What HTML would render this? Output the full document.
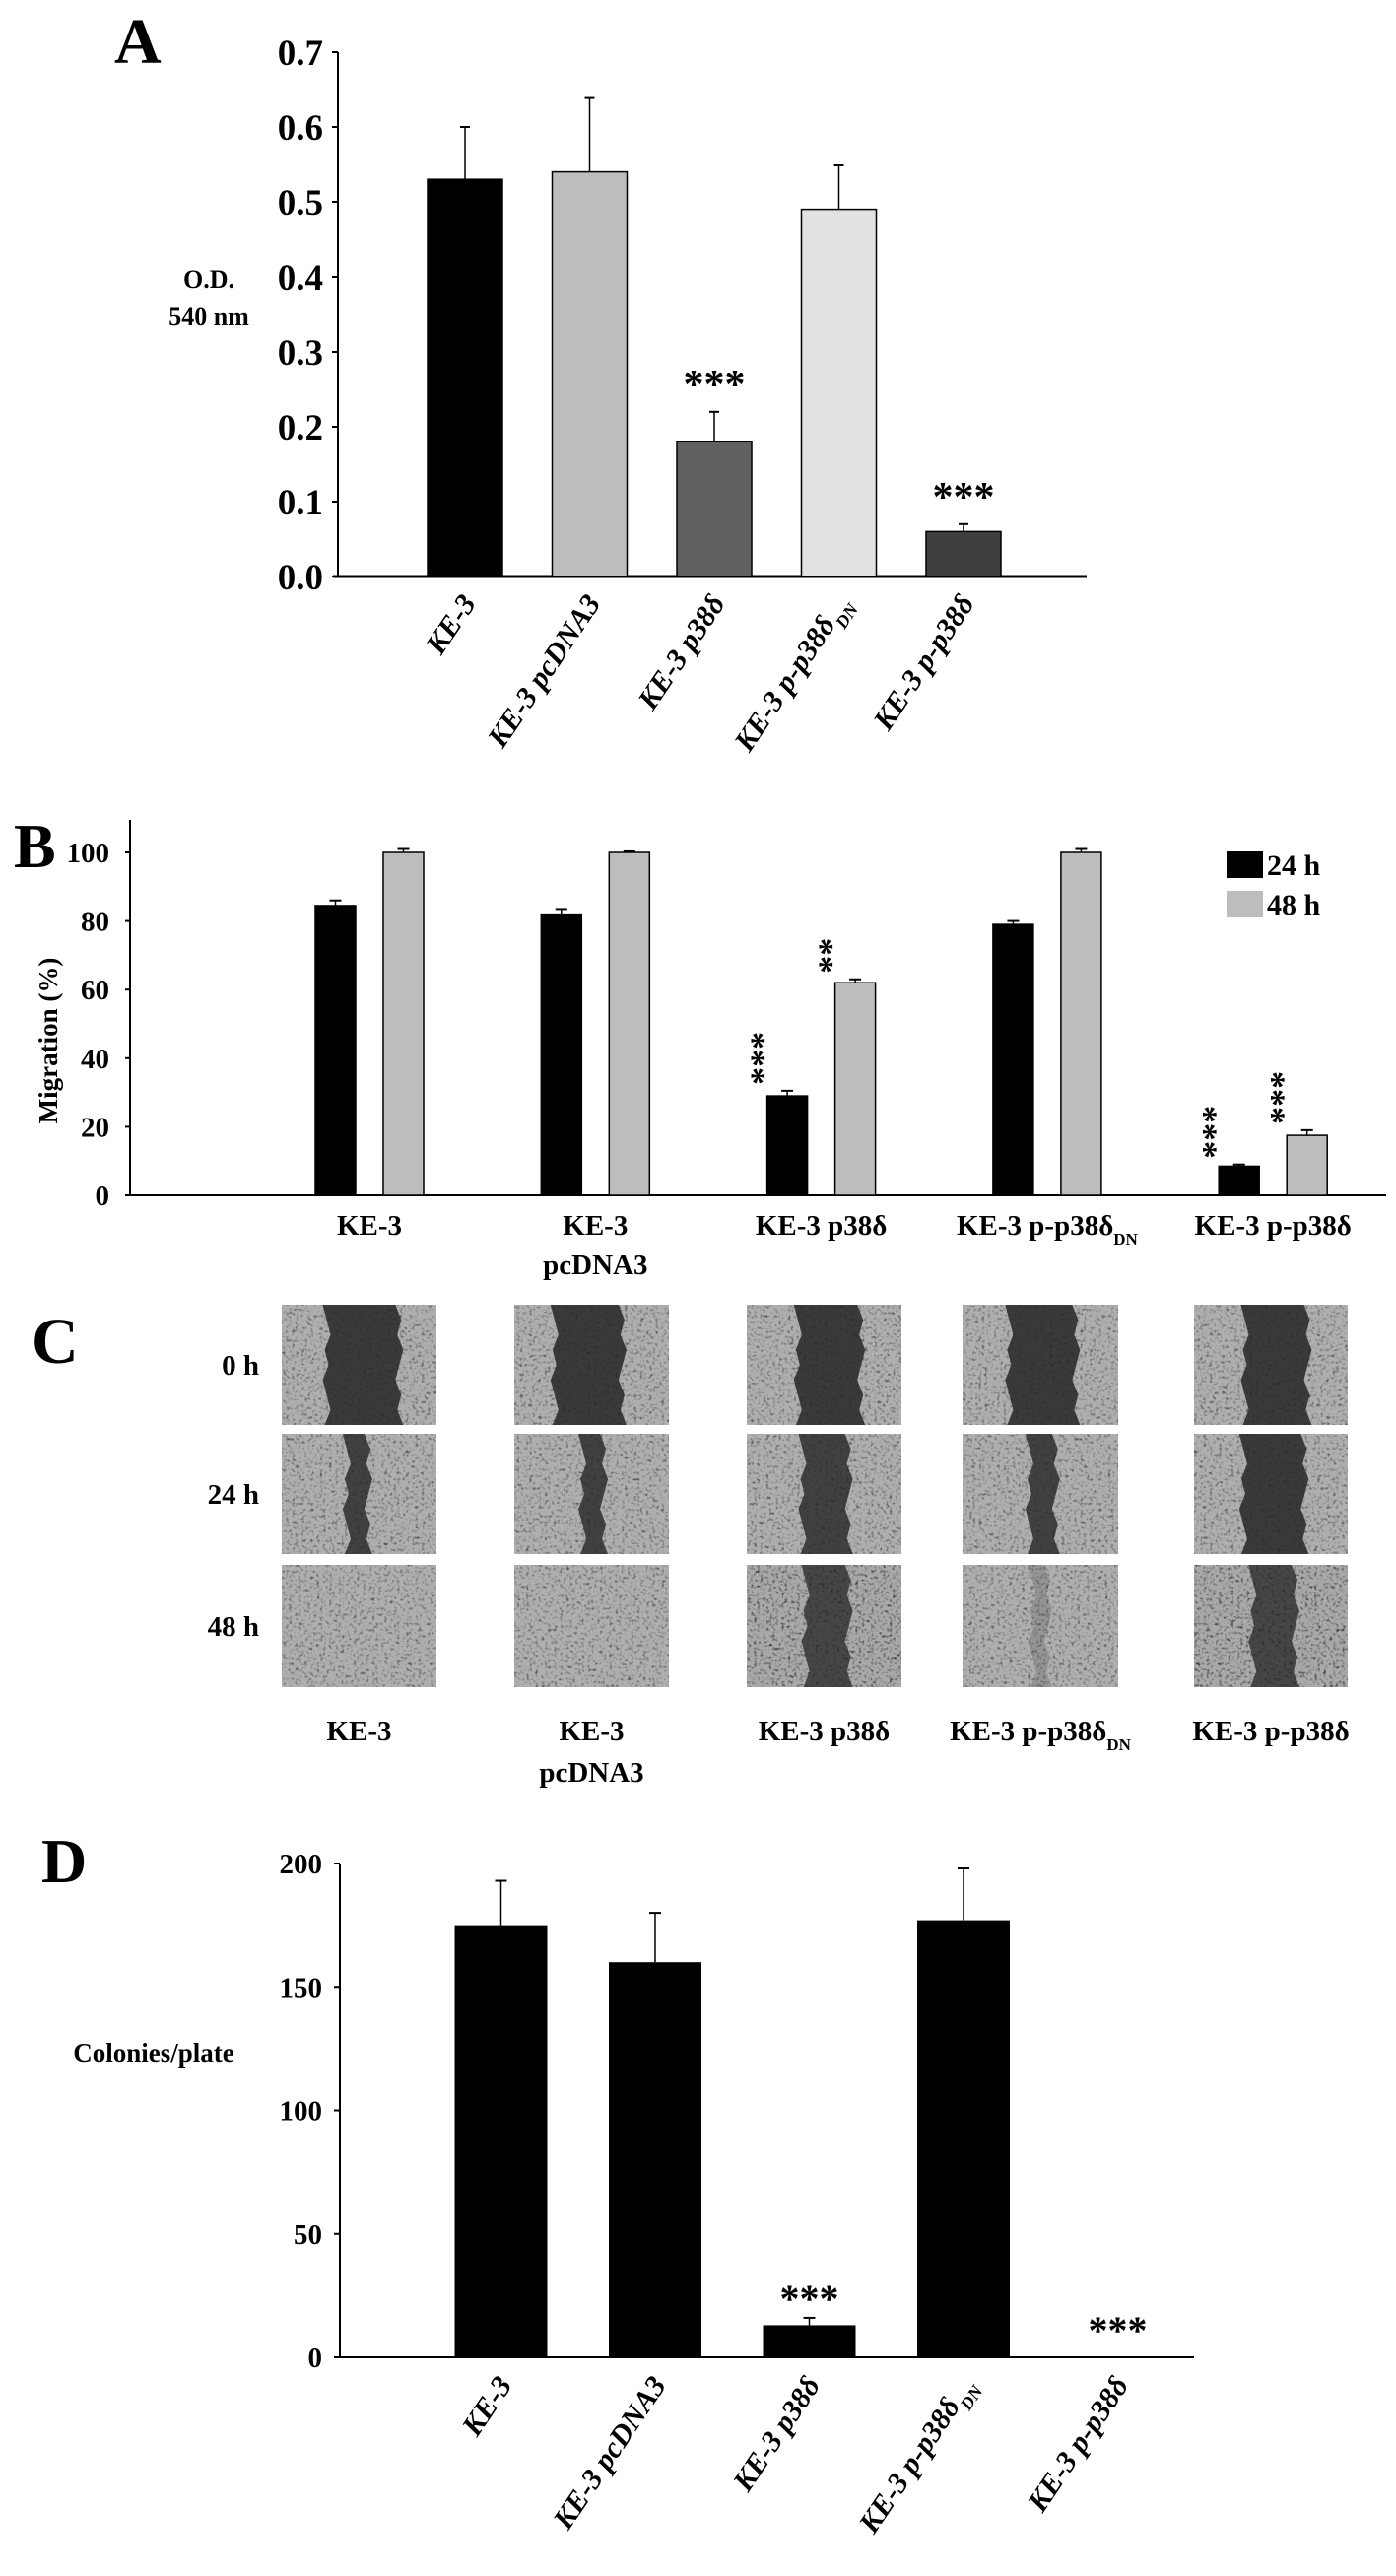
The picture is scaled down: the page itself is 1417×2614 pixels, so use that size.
<!DOCTYPE html>
<html><head><meta charset="utf-8"><style>
html,body{margin:0;padding:0;background:#fff;}
svg{display:block;font-family:"Liberation Serif",serif;font-weight:bold;}
</style></head><body>
<svg id="fig" width="1417" height="2614" viewBox="0 0 1417 2614">
<defs>
<filter id="noise" x="0" y="0" width="100%" height="100%">
<feTurbulence type="fractalNoise" baseFrequency="0.32" numOctaves="2" seed="3" result="t"/>
<feColorMatrix type="matrix" values="0 0 0 0 0.62  0 0 0 0 0.62  0 0 0 0 0.62  1.4 1.4 1.4 0 -1.1"/>
</filter>
</defs>
</svg>
<script>
const NS='http://www.w3.org/2000/svg';
const svg=document.getElementById('fig');
function mk(tag,attrs,parent,txt){const e=document.createElementNS(NS,tag);for(const k in attrs)e.setAttribute(k,attrs[k]);if(txt!==undefined)e.textContent=txt;(parent||svg).appendChild(e);return e;}

// ---------- data ----------
const catsA=['KE-3','KE-3 pcDNA3','KE-3 p38δ','KE-3  p-p38δ|DN','KE-3  p-p38δ'];
const valsA=[0.53,0.54,0.18,0.49,0.06];
const errA=[0.07,0.10,0.04,0.06,0.01];
const colorsA=['#000','#bdbdbd','#606060','#e2e2e2','#3f3f3f'];
const sigA=['','','***','','***'];
const ticksA=[0,0.1,0.2,0.3,0.4,0.5,0.6,0.7];

const catsB=['KE-3','KE-3|pcDNA3','KE-3 p38δ','KE-3 p-p38δDN','KE-3 p-p38δ'];
const vals24=[84.5,82,29,79,8.5];
const err24=[1.5,1.5,1.5,1,0.5];
const vals48=[100,100,62,100,17.5];
const err48=[1,0.3,1,1,1.5];
const sig24=['','','***','','***'];
const sig48=['','','**','','***'];
const ticksB=[0,20,40,60,80,100];

const catsD=['KE-3','KE-3 pcDNA3','KE-3 p38δ','KE-3  p-p38δ|DN','KE-3  p-p38δ'];
const valsD=[175,160,13,177,0];
const errD=[18,20,3,21,0];
const sigD=['','','***','','***'];
const ticksD=[0,50,100,150,200];

// ---------- Panel A ----------
const gA=mk('g',{});


const yA=v=>585-(v/0.7)*532;
const xA=i=>472+i*126.5;
const bwA=76;
let t=mk('text',{x:116,y:64,'font-size':66},gA,'A');

mk('line',{x1:343,y1:yA(0.7),x2:343,y2:585,stroke:'#000','stroke-width':2},gA);
mk('line',{x1:338,y1:585,x2:1103,y2:585,stroke:'#000','stroke-width':3},gA);
ticksA.forEach(v=>{
  mk('line',{x1:337,y1:yA(v),x2:343,y2:yA(v),stroke:'#000','stroke-width':2},gA);
  const e=mk('text',{x:328,y:yA(v)+13,'text-anchor':'end','font-size':37},gA,v.toFixed(1));
  
});
t=mk('text',{x:212,y:292,'text-anchor':'middle','font-size':26},gA,'O.D.');

t=mk('text',{x:212,y:330,'text-anchor':'middle','font-size':26},gA,'540 nm');

valsA.forEach((v,i)=>{
  const cx=xA(i);
  const top=yA(v+errA[i]);
  mk('line',{x1:cx,y1:yA(v),x2:cx,y2:top,stroke:'#000','stroke-width':1.5},gA);
  mk('line',{x1:cx-5,y1:top,x2:cx+5,y2:top,stroke:'#000','stroke-width':2},gA);
  const r=mk('rect',{x:cx-bwA/2,y:yA(v),width:bwA,height:585-yA(v),fill:colorsA[i],stroke:'#000','stroke-width':1.5},gA);
  
  if(sigA[i]){const s=mk('text',{x:cx,y:top-14,'text-anchor':'middle','font-size':42},gA,sigA[i]);
    }
});
function rotLabel(parent,label,x,y,fs){
  const parts=label.split('|');
  const e=mk('text',{x:x,y:y,'text-anchor':'end','font-size':fs,'font-style':'italic',transform:'rotate(-56 '+x+' '+y+')'},parent,parts[0]);
  if(parts[1]) mk('tspan',{'font-size':fs*0.6,'baseline-shift':'sub'},e,parts[1]);
  
}
catsA.forEach((c,i)=>rotLabel(gA,c,xA(i)+12,612,30));

// ---------- Panel B ----------
const gB=mk('g',{});


const yB=v=>1213-(v/100)*348;
const xB=i=>375+i*229.3;
t=mk('text',{x:14,y:880,'font-size':64},gB,'B');

mk('line',{x1:132,y1:832,x2:132,y2:1213,stroke:'#000','stroke-width':2},gB);
mk('line',{x1:128,y1:1213,x2:1407,y2:1213,stroke:'#000','stroke-width':2},gB);
ticksB.forEach(v=>{
  mk('line',{x1:127,y1:yB(v),x2:132,y2:yB(v),stroke:'#000','stroke-width':2},gB);
  const e=mk('text',{x:111,y:yB(v)+10,'text-anchor':'end','font-size':29},gB,String(v));
  
});
t=mk('text',{x:58,y:1056,'text-anchor':'middle','font-size':27,transform:'rotate(-90 58 1056)'},gB,'Migration (%)');

const bwB=41;
function barB(cx,v,e,fill,name,sig){
  const top=yB(v+e);
  mk('line',{x1:cx,y1:yB(v),x2:cx,y2:top,stroke:'#000','stroke-width':1.5},gB);
  mk('line',{x1:cx-6,y1:top,x2:cx+6,y2:top,stroke:'#000','stroke-width':2},gB);
  const r=mk('rect',{x:cx-bwB/2,y:yB(v),width:bwB,height:1213-yB(v),fill:fill,stroke:'#000','stroke-width':1.5},gB);
  
  if(sig){const yy=top-6;const s=mk('text',{x:cx-13,y:yy,'text-anchor':'start','font-size':36,transform:'rotate(-90 '+(cx-13)+' '+yy+')'},gB,sig);
    }
}
vals24.forEach((v,i)=>{
  barB(xB(i)-34.5,v,err24[i],'#000','bar-24h-'+i,sig24[i]);
  barB(xB(i)+34.5,vals48[i],err48[i],'#bdbdbd','bar-48h-'+i,sig48[i]);
  const lines=catsB[i].split('|');
  lines.forEach((ln,k)=>{
    const m=ln.match(/^(.*)DN$/);
    const e=mk('text',{x:xB(i),y:1253+k*40,'text-anchor':'middle','font-size':29},gB,m?m[1]:ln);
    if(m) mk('tspan',{'font-size':17,'baseline-shift':'sub'},e,'DN');
    
  });
});
let lg=mk('g',{},gB);
let le=mk('rect',{x:1245,y:864,width:37,height:27,fill:'#000'},lg);

le=mk('text',{x:1286,y:888,'font-size':30},lg,'24 h');

le=mk('rect',{x:1245,y:904,width:37,height:27,fill:'#bdbdbd'},lg);

le=mk('text',{x:1286,y:928,'font-size':30},lg,'48 h');


// ---------- Panel C (wound images) ----------
const gC=mk('g',{});


t=mk('text',{x:32,y:1383,'font-size':66},gC,'C');

const colX=[286,522,758,977,1212];
const colW=[157,157,157,158,156];
const rowY=[1324,1455,1588];
const rowH=[122,122,124];
const rowLabels=['0 h','24 h','48 h'];
const gaps=[
 [[0.29,0.76,0.85],[0.26,0.70,0.85],[0.33,0.74,0.85],[0.30,0.73,0.85],[0.33,0.74,0.85]],
 [[0.42,0.56,0.8],[0.44,0.58,0.8],[0.36,0.66,0.8],[0.43,0.60,0.8],[0.32,0.72,0.85]],
 [[0,0,0],[0,0,0],[0.38,0.66,0.75],[0.45,0.55,0.2],[0.38,0.66,0.75]]];
rowLabels.forEach((l,r)=>{
  const e=mk('text',{x:263,y:rowY[r]+rowH[r]/2+10,'text-anchor':'end','font-size':29},gC,l);
  
  colX.forEach((x,c)=>{
    const g=mk('g',{},gC);
    
    const w=colW[c],h=rowH[r],y=rowY[r];
    const base=r===2&&(c===2||c===4)?'#3a3a3a':'#555';
    mk('rect',{x:x,y:y,width:w,height:h,fill:base},g);
    mk('rect',{x:x,y:y,width:w,height:h,fill:'#fff',filter:'url(#noise)',opacity:0.75},g);
    const gp=gaps[r][c];
    if(gp[2]>0){
      const pts=[];const n=8;
      for(let k=0;k<=n;k++){const yy=y+h*k/n;pts.push((x+w*gp[0]+((k*7)%5-2)*2)+','+yy);}
      for(let k=n;k>=0;k--){const yy=y+h*k/n;pts.push((x+w*gp[1]+((k*3)%5-2)*2)+','+yy);}
      mk('polygon',{points:pts.join(' '),fill:'#262626',opacity:gp[2]},g);
    }
  });
});
['KE-3','KE-3|pcDNA3','KE-3 p38δ','KE-3 p-p38δDN','KE-3 p-p38δ'].forEach((c,i)=>{
  c.split('|').forEach((ln,k)=>{
    const m=ln.match(/^(.*)DN$/);
    const e=mk('text',{x:colX[i]+colW[i]/2,y:1766+k*42,'text-anchor':'middle','font-size':29},gC,m?m[1]:ln);
    if(m) mk('tspan',{'font-size':17,'baseline-shift':'sub'},e,'DN');
    
  });
});

// ---------- Panel D ----------
const gD=mk('g',{});


const yD=v=>2392-(v/200)*501;
const xD=i=>508.5+i*156.5;
const bwD=94;
t=mk('text',{x:42,y:1910,'font-size':64},gD,'D');

mk('line',{x1:345,y1:yD(200),x2:345,y2:2392,stroke:'#000','stroke-width':2},gD);
mk('line',{x1:340,y1:2392,x2:1212,y2:2392,stroke:'#000','stroke-width':2},gD);
ticksD.forEach(v=>{
  mk('line',{x1:339,y1:yD(v),x2:345,y2:yD(v),stroke:'#000','stroke-width':2},gD);
  const e=mk('text',{x:327,y:yD(v)+10,'text-anchor':'end','font-size':29},gD,String(v));
  
});
t=mk('text',{x:156,y:2092,'text-anchor':'middle','font-size':27},gD,'Colonies/plate');

valsD.forEach((v,i)=>{
  const cx=xD(i);
  const top=yD(v+errD[i]);
  if(v>0){
    mk('line',{x1:cx,y1:yD(v),x2:cx,y2:top,stroke:'#000','stroke-width':1.5},gD);
    mk('line',{x1:cx-6,y1:top,x2:cx+6,y2:top,stroke:'#000','stroke-width':2},gD);
    const r=mk('rect',{x:cx-bwD/2,y:yD(v),width:bwD,height:2392-yD(v),fill:'#000'},gD);
    
  }
  if(sigD[i]){const s=mk('text',{x:cx,y:top-6+(v>0?0:-8),'text-anchor':'middle','font-size':40},gD,sigD[i]);
    }
});
catsD.forEach((c,i)=>rotLabel(gD,c,xD(i)+12,2420,30));
</script>
</body></html>
